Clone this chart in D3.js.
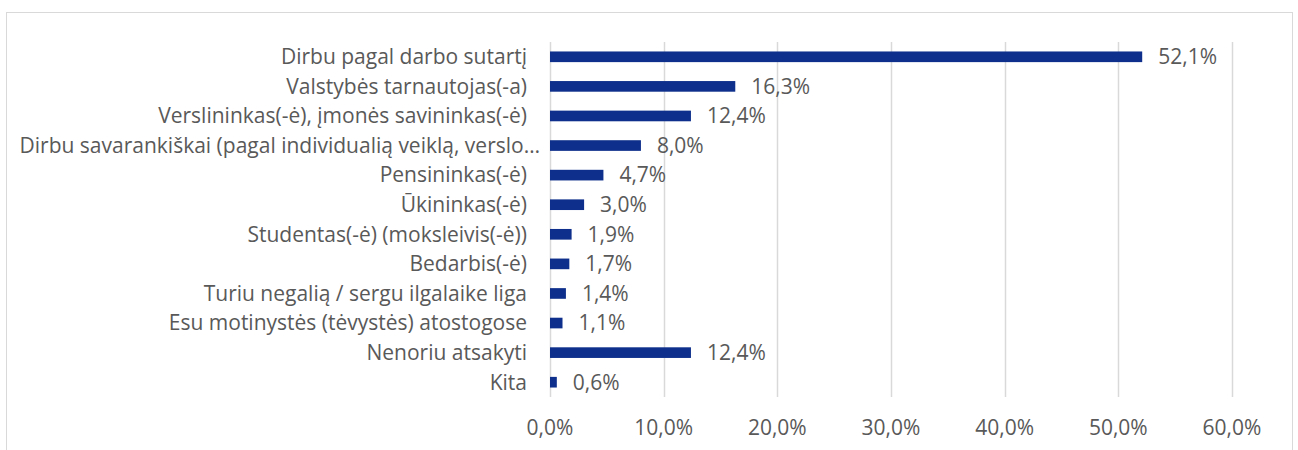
<!DOCTYPE html>
<html>
<head>
<meta charset="utf-8">
<script src="https://cdn.jsdelivr.net/npm/d3@7"></script>
<style>
  html, body { margin: 0; padding: 0; background: #fff; }
  svg { display: block; }
</style>
</head>
<body>
<div id="chart"></div>
<script>
// Données du graphique
const categories = [
  "Dirbu pagal darbo sutartį",
  "Valstybės tarnautojas(-a)",
  "Verslininkas(-ė), įmonės savininkas(-ė)",
  "Dirbu savarankiškai (pagal individualią veiklą, verslo…",
  "Pensininkas(-ė)",
  "Ūkininkas(-ė)",
  "Studentas(-ė) (moksleivis(-ė))",
  "Bedarbis(-ė)",
  "Turiu negalią / sergu ilgalaike liga",
  "Esu motinystės (tėvystės) atostogose",
  "Nenoriu atsakyti",
  "Kita"
];
const values = [52.1, 16.3, 12.4, 8.0, 4.7, 3.0, 1.9, 1.7, 1.4, 1.1, 12.4, 0.6];
const ticks = [0, 10, 20, 30, 40, 50, 60];

const barColor = "#0e2f8b";
const textColor = "#595959";
const gridColor = "#d9d9d9";
const font = "'Open Sans', sans-serif";
const fontSize = "21px";

const width = 1298, height = 450;
const margin = {left: 550, right: 66, top: 42, bottom: 53};

const svg = d3.select('#chart').append('svg')
  .attr('width', width)
  .attr('height', height);

// Cadre du graphique
svg.append('rect')
  .attr('x', 6.5).attr('y', 12.5)
  .attr('width', 1286).attr('height', 460)
  .attr('fill', 'none')
  .attr('stroke', gridColor)
  .attr('stroke-width', 1);

const x = d3.scaleLinear()
  .domain([0, 60])
  .range([margin.left, width - margin.right]);

const y = d3.scaleBand()
  .domain(categories)
  .range([margin.top, height - margin.bottom])
  .paddingInner(0.64)
  .paddingOuter(0.32);

// Lignes de grille
svg.append('g')
  .selectAll('line')
  .data(ticks)
  .join('line')
  .attr('x1', d => Math.round(x(d)) + 0.5)
  .attr('x2', d => Math.round(x(d)) + 0.5)
  .attr('y1', margin.top)
  .attr('y2', height - margin.bottom)
  .attr('stroke', gridColor)
  .attr('stroke-width', 1.5);

// Étiquettes de l'axe X
svg.append('g')
  .selectAll('text')
  .data(ticks)
  .join('text')
  .attr('x', d => x(d))
  .attr('y', height - margin.bottom + 31)
  .attr('dy', '0.35em')
  .attr('text-anchor', 'middle')
  .attr('fill', textColor)
  .style('font-family', font)
  .style('font-size', fontSize)
  .text(d => d.toFixed(1).replace('.', ',') + '%');

// Barres
svg.append('g')
  .selectAll('rect')
  .data(values)
  .join('rect')
  .attr('x', x(0))
  .attr('y', (d, i) => y(categories[i]))
  .attr('width', d => x(d) - x(0))
  .attr('height', y.bandwidth())
  .attr('fill', barColor);

// Étiquettes des catégories (le libellé tronqué déborde un peu à droite, comme dans Excel)
svg.append('g')
  .selectAll('text')
  .data(categories)
  .join('text')
  .attr('x', d => margin.left - 23 + (d.endsWith('…') ? 13 : 0))
  .attr('y', d => y(d) + y.bandwidth() / 2)
  .attr('dy', '0.35em')
  .attr('text-anchor', 'end')
  .attr('fill', textColor)
  .style('font-family', font)
  .style('font-size', fontSize)
  .text(d => d);

// Étiquettes des valeurs
svg.append('g')
  .selectAll('text')
  .data(values)
  .join('text')
  .attr('x', d => x(d) + 16)
  .attr('y', (d, i) => y(categories[i]) + y.bandwidth() / 2)
  .attr('dy', '0.35em')
  .attr('fill', textColor)
  .style('font-family', font)
  .style('font-size', fontSize)
  .text(d => d.toFixed(1).replace('.', ',') + '%');
</script>
</body>
</html>
